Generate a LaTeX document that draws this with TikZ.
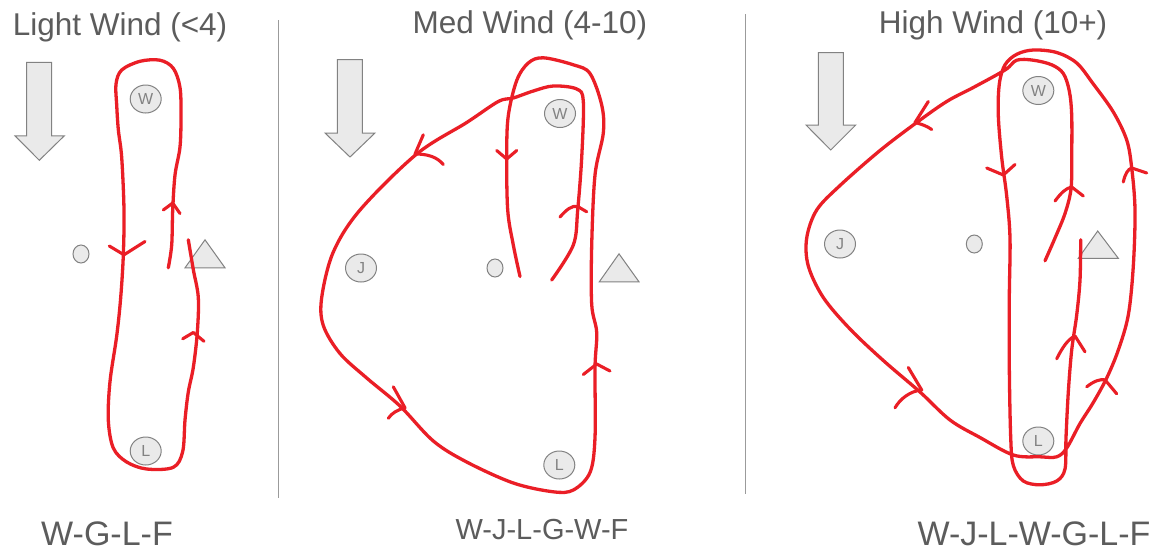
\documentclass[tikz,border=0pt]{standalone}
\usepackage{fontspec}
\setmainfont{Liberation Sans}
\usetikzlibrary{shapes.geometric}
\definecolor{pen}{RGB}{234,30,38}
\definecolor{txt}{RGB}{92,92,92}
\definecolor{bfill}{RGB}{234,234,234}
\definecolor{bline}{RGB}{130,130,130}
\tikzset{
  course/.style={draw=pen,line width=3.3pt,line cap=round,line join=round},
  chev/.style={draw=pen,line width=3.1pt,line cap=round,line join=round},
  buoy/.style={ellipse,draw=bline,fill=bfill,line width=1pt,minimum width=31pt,minimum height=28pt,inner sep=0pt,text=bline,font=\fontsize{16}{16}\selectfont},
  pin/.style={ellipse,draw=bline,fill=bfill,line width=1pt,minimum width=16pt,minimum height=18pt,inner sep=0pt},
  windarrow/.style={draw=bline,fill=bfill,line width=1pt,line join=miter},
  divider/.style={draw=bline!80,line width=1pt},
  title/.style={text=txt,font=\fontsize{31.5}{35}\selectfont,inner sep=0pt},
  seq/.style={text=txt,font=\fontsize{34}{38}\selectfont,inner sep=0pt},
  seqs/.style={text=txt,font=\fontsize{29}{33}\selectfont,inner sep=0pt}
}
\begin{document}
\begin{tikzpicture}[x=1pt,y=-1pt]
\useasboundingbox (0,0) rectangle (1158,552);
\fill[white] (0,0) rectangle (1158,552);

% ---------------- titles and course strings
\node[title] (t1) at (120,27) {Light Wind (<4)};
\node[title] (t2) at (530,25) {Med Wind (4-10)};
\node[title] (t3) at (993,25) {High Wind (10+)};
\node[seq] (s1) at (107,534) {W-G-L-F};
\node[seqs] (s2) at (542,530) {W-J-L-G-W-F};
\node[seq] (s3) at (1034,534) {W-J-L-W-G-L-F};

% ---------------- dividers
\coordinate (d1a) at (278.3,20); \coordinate (d1b) at (278.3,498);
\coordinate (d2a) at (745.5,14); \coordinate (d2b) at (745.5,494);
\draw[divider] (d1a) -- (d1b);
\draw[divider] (d2a) -- (d2b);

% ---------------- wind arrows
\draw[windarrow] (26.7,62.3) -- (51.7,62.3) -- (51.7,135.8) -- (64.3,135.8) -- (39.3,160.3) -- (15,135.8) -- (26.7,135.8) -- cycle;
\draw[windarrow] (337.3,59.5) -- (362.3,59.5) -- (362.3,133) -- (375,133) -- (350,157) -- (325,133) -- (337.3,133) -- cycle;
\draw[windarrow] (818.3,52.5) -- (843.3,52.5) -- (843.3,125) -- (855.7,125) -- (830.7,150) -- (806,125) -- (818.3,125) -- cycle;

% ---------------- triangles (marks)
\draw[windarrow] (205,239.8) -- (225,267.8) -- (185,267.8) -- cycle;
\draw[windarrow] (619,253.8) -- (639,281.8) -- (599.3,281.8) -- cycle;
\draw[windarrow] (1097.7,231) -- (1118.3,258.3) -- (1078.3,258.3) -- cycle;

% ---------------- buoys panel 1
\node[buoy] (w1) at (145.7,99) {W};
\node[buoy] (l1) at (145.7,451) {L};
\node[pin] (p1) at (81,254) {};
% panel 2
\node[buoy] (w2) at (560,113.5) {W};
\node[buoy] (j2) at (361,268) {J};
\node[buoy] (l2) at (559.3,465) {L};
\node[pin] (p2) at (495,268) {};
% panel 3
\node[buoy] (w3) at (1038.3,90.5) {W};
\node[buoy] (j3) at (840,244) {J};
\node[buoy] (l3) at (1038.3,441) {L};
\node[pin] (p3) at (974.3,244) {};

% ---------------- course panel 1
\draw[course] plot[smooth,tension=0.55] coordinates {
(168.3,267.8) (171.7,245) (172.7,210) (175,175) (180,147) (181,115.5) (180,87.5)
(173.3,68.3) (160,60.2) (140,61.3) (121.7,70) (116,84) (116.7,105) (118.3,129.5)
(121.7,157.5) (124,210) (123.3,255.5) (120.7,297.5) (116.7,336) (110,381.5)
(108.3,420) (113.3,448) (126.7,462) (146.7,469) (173.3,467.3) (182.7,451.5)
(185,420) (188.3,392) (193.3,367.5) (197.3,332.5) (198.3,297.5) (193.3,269.5) (188.3,239.8)};
\draw[chev] (163.3,210) -- (172.7,203) -- (180,213.5);
\draw[chev] (109.3,246) -- (124,254.8) -- (145,241.5);
\draw[chev] (182.7,338.8) -- (193.3,332.5) -- (204,341.3);

% ---------------- course panel 2
\draw[course] plot[smooth,tension=0.55] coordinates {
(551.7,280) (573.3,245) (577.7,210) (581.7,157.5) (583.3,101.5) (576.7,89)
(553.3,86) (533.3,91) (513.3,98) (498.3,101.5) (466.7,122.5) (416.7,154)
(360,210) (333.3,252) (321.7,297.5) (323.3,325.5) (340,353.5) (366.7,378)
(400,406) (433.3,441) (466.7,462) (513.3,483) (553.3,491.8) (573.3,490)
(590,472.5) (595,437.5) (595,367.5) (596.7,332.5) (591.7,304.5) (591.7,245)
(595,175) (603.3,133) (601.7,105) (590,73.5) (573.3,64.8) (543.3,57.8)
(528.3,63) (516.7,80.5) (508.3,115.5) (506.7,154) (507.7,210) (513.3,245) (520,276.5)};
\draw[chev] (560,217) .. controls (566,210) and (572,205) .. (577.7,206.5) -- (586.7,211.8);
\draw[chev] (423.3,134.8) -- (415,154) .. controls (428,154) and (437,157) .. (443.3,164.5);
\draw[chev] (393.3,386.8) -- (405,407.8) .. controls (397,410) and (392,413) .. (388.3,418.3);
\draw[chev] (583.3,374.5) -- (596.7,364) -- (610,371);
\draw[chev] (496.7,150.5) -- (506.7,159) -- (516.7,150.5);

% ---------------- course panel 3
\draw[course] plot[smooth,tension=0.55] coordinates {
(1045,260.8) (1055,238) (1065,213.5) (1071,189) (1071.7,157.5) (1071.7,115.5)
(1069.3,91) (1063.3,73.5) (1051.7,64.8) (1033.3,60.2) (1016.7,60.2) (1005,70)
(973.3,87.5) (946.7,101.5) (916.7,122.5) (880,150.5) (840,185.5) (816.7,210)
(806.7,238) (808.3,266) (823.3,297.5) (850,329) (883.3,360.5) (920,392)
(950,420) (980,437.5) (1013.3,455) (1040,456.8) (1056.7,456.8) (1066.7,448)
(1080,423.5) (1093.3,402.5) (1106.7,378) (1118.3,350) (1128.3,315) (1133.3,266)
(1135,210) (1131.7,168) (1126.7,140) (1113.3,112) (1093.3,84) (1076.7,63)
(1056.7,52.5) (1033.3,50) (1016.7,54.3) (1005,64.8) (999.3,84) (998.3,115.5)
(1001.7,157.5) (1006.7,196) (1010,238) (1009.3,297.5) (1009.3,367.5) (1010.7,437.5)
(1013.3,465.5) (1023.3,481) (1040,484.8) (1056.7,481) (1065,469) (1066,437.5)
(1068.3,392) (1071.7,350) (1076.7,315) (1080,280) (1080.7,239.8)};
\draw[chev] (928.3,101.5) -- (915,122.5) .. controls (921,124) and (927,126) .. (931.7,129.5);
\draw[chev] (986.7,168) -- (1003.3,175) -- (1015,164.5);
\draw[chev] (1055,201) .. controls (1061,193) and (1066,188) .. (1071.7,187) -- (1083.3,196);
\draw[chev] (1123.3,182) .. controls (1125,174) and (1128,169) .. (1131.7,168) -- (1146.7,173);
\draw[chev] (908.3,367.5) -- (921.7,390) .. controls (910,391) and (900,399) .. (895,407.8);
\draw[chev] (1056.7,358.8) .. controls (1062,348) and (1068,339) .. (1075,336) -- (1085,351.8);
\draw[chev] (1086.7,386.8) .. controls (1094,381) and (1100,379) .. (1105,379.8) -- (1116.7,393.8);
\end{tikzpicture}
\end{document}
